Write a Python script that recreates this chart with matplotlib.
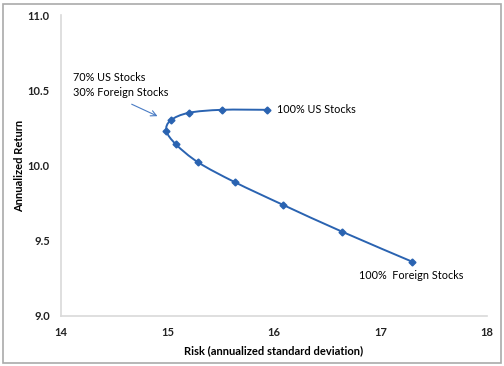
import numpy as np
import matplotlib.pyplot as plt
from matplotlib.path import Path
from matplotlib.patches import PathPatch, Rectangle

# portfolio mix from 100% foreign (first) to 100% US (last), 10% steps
risk = [17.30, 16.64, 16.08, 15.63, 15.29, 15.08, 14.99, 15.03, 15.20, 15.51, 15.93]
ret = [9.36, 9.56, 9.74, 9.89, 10.02, 10.14, 10.23, 10.30, 10.35, 10.37, 10.37]

xticks = [14, 15, 16, 17, 18]
yticks = [9.0, 9.5, 10.0, 10.5, 11.0]

blue = '#2a63b1'
plt.rcParams['font.family'] = ['Lato', 'DejaVu Sans']

fig = plt.figure(figsize=(5.04, 3.66), dpi=100)
ax = fig.add_axes([61 / 504, 1 - 316 / 366, 426 / 504, 301 / 366])

# smoothed line like excel: catmull-rom style bezier through the points
pts = np.column_stack([risk, ret])
verts = [tuple(pts[0])]
codes = [Path.MOVETO]
n = len(pts)
for i in range(n - 1):
    p0 = pts[max(i - 1, 0)]
    p1 = pts[i]
    p2 = pts[i + 1]
    p3 = pts[min(i + 2, n - 1)]
    c1 = p1 + (p2 - p0) / 6
    c2 = p2 - (p3 - p1) / 6
    verts += [tuple(c1), tuple(c2), tuple(p2)]
    codes += [Path.CURVE4] * 3
ax.add_patch(PathPatch(Path(verts, codes), facecolor='none', edgecolor=blue, lw=1.4))
ax.plot(risk, ret, linestyle='none', marker='D', ms=3.5, color=blue)

ax.set_xlim(14, 18)
ax.set_ylim(9.0, 11.0)
ax.set_xticks(xticks)
ax.set_yticks(yticks)
ax.set_xticklabels([str(t) for t in xticks])
ax.set_yticklabels([f'{t:.1f}' for t in yticks])
ax.tick_params(length=0, labelsize=8, colors='#222222', pad=8)
for lab in ax.get_xticklabels() + ax.get_yticklabels():
    lab.set_fontweight('bold')
for s in ['top', 'right']:
    ax.spines[s].set_visible(False)
for s in ['left', 'bottom']:
    ax.spines[s].set_color('#d9d9d9')
    ax.spines[s].set_linewidth(1.2)

ax.set_xlabel('Risk (annualized standard deviation)', fontsize=8, fontweight='bold', labelpad=5)
ax.set_ylabel('Annualized Return', fontsize=8, fontweight='bold')
ax.yaxis.set_label_coords(-0.085, 0.5)

ax.text(16.03, ret[-1], '100% US Stocks', fontsize=7.8, va='center', ha='left')
ax.text(16.80, 9.27, '100%  Foreign Stocks', fontsize=7.8, va='center', ha='left')
ax.text(14.11, 10.535, '70% US Stocks\n30% Foreign Stocks', fontsize=7.8, va='center', ha='left',
        linespacing=1.45)
ax.annotate('', xy=(14.93, 10.32), xytext=(14.64, 10.415),
            arrowprops=dict(arrowstyle='->', color='#4a7cc4', lw=0.8))

fig.patches.append(Rectangle((3 / 504, 3 / 366), 498 / 504, 359 / 366, transform=fig.transFigure,
                             fill=False, edgecolor='#aaaaaa', lw=1.2))

fig.savefig('out.png', dpi=100)
